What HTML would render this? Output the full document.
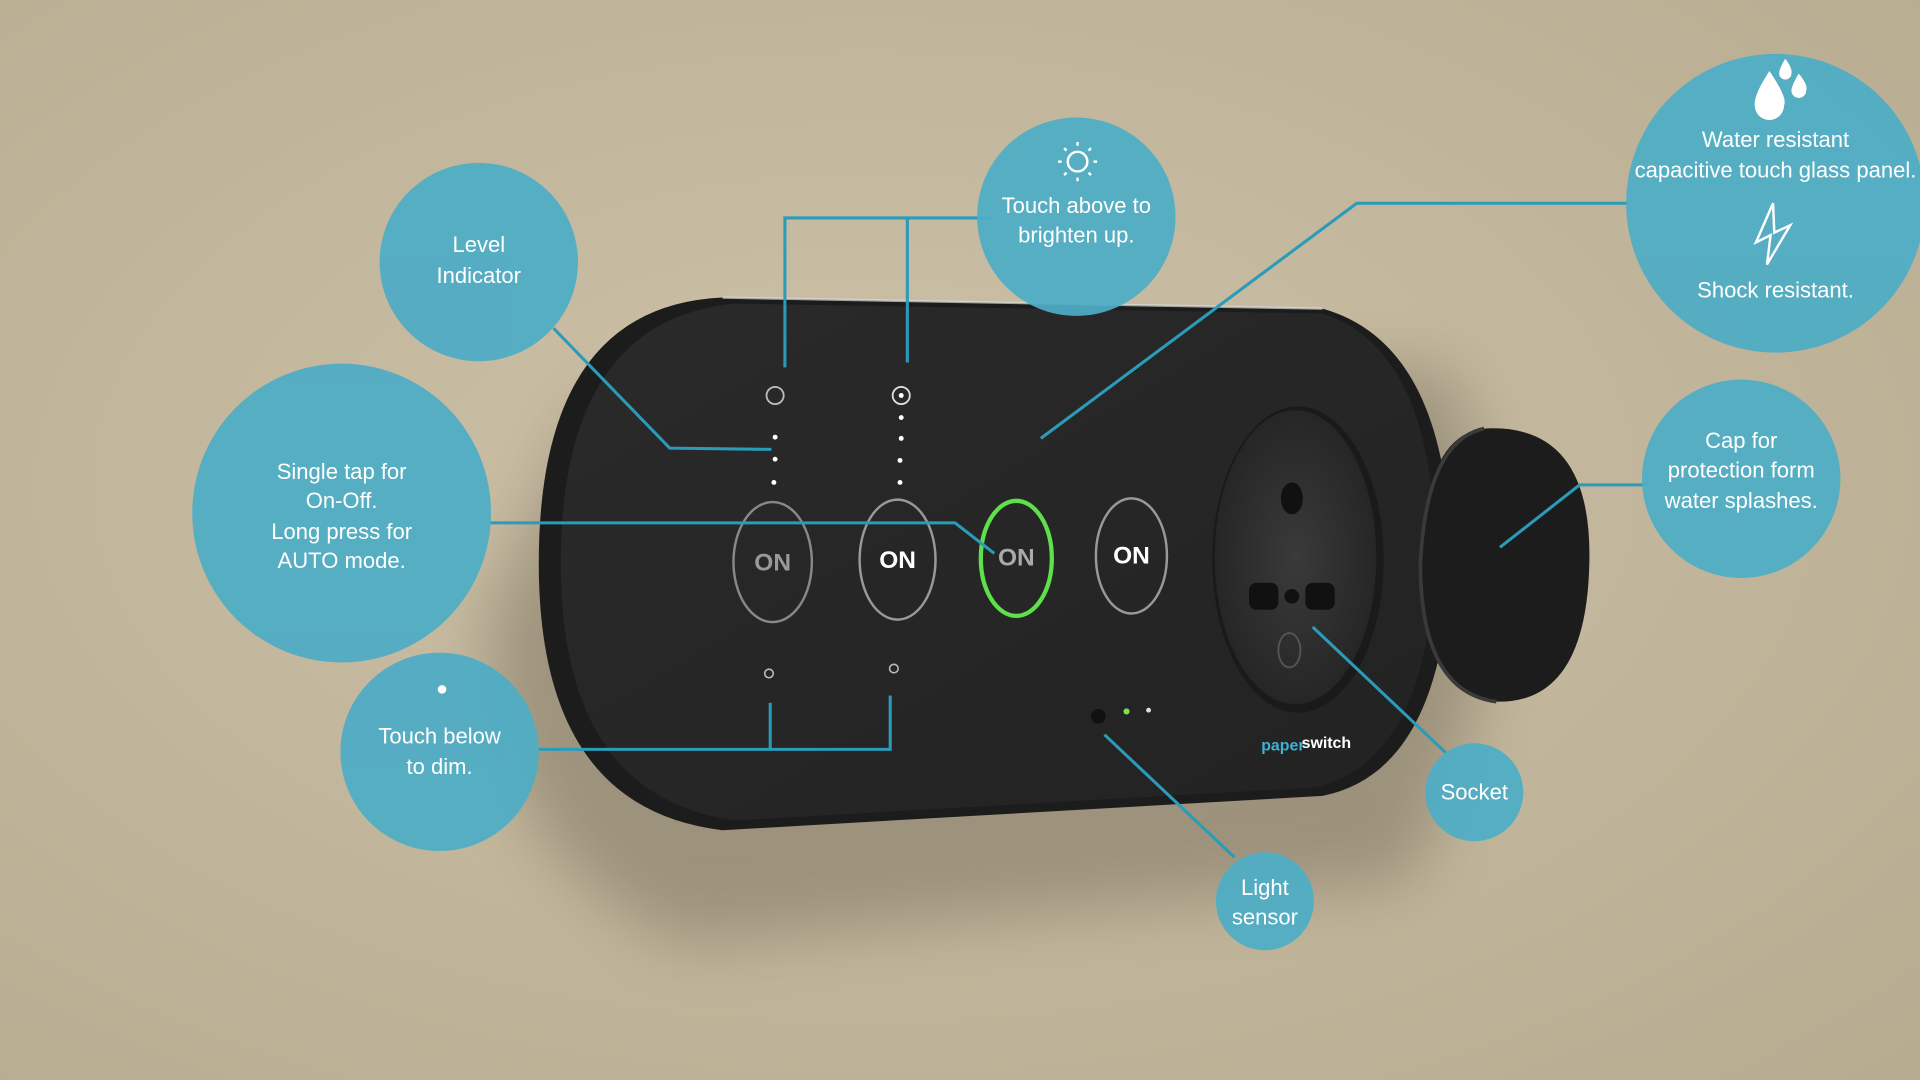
<!DOCTYPE html>
<html><head><meta charset="utf-8"><style>
html,body{margin:0;padding:0;width:1920px;height:1080px;overflow:hidden;}
svg{display:block}
text{font-family:"Liberation Sans",sans-serif;fill:#fff;}
</style></head><body>
<svg width="1920" height="1080" viewBox="0 0 1568 882" xmlns="http://www.w3.org/2000/svg">
<defs>
<radialGradient id="bg" cx="0.45" cy="0.45" r="0.8">
<stop offset="0" stop-color="#cdc2a8"/><stop offset="1" stop-color="#b6aa8f"/></radialGradient>
<filter id="blur" x="-20%" y="-20%" width="140%" height="140%"><feGaussianBlur stdDeviation="25"/></filter>
<radialGradient id="sock" cx="0.5" cy="0.5" r="0.5"><stop offset="0" stop-color="#3a3a3a"/><stop offset="1" stop-color="#262626"/></radialGradient>
<linearGradient id="face" x1="0" y1="0" x2="1" y2="1"><stop offset="0" stop-color="#2a2a2a"/><stop offset="1" stop-color="#222"/></linearGradient>
</defs>
<rect width="1568" height="882" fill="url(#bg)"/>
<path d="M480 330 L1180 300 Q1270 480 1150 720 L560 770 Q390 700 400 500 Z" fill="#6f6553" opacity="0.45" filter="url(#blur)"/>
<path d="M590 243 L1080 252 Q1180 280 1185 450 Q1180 630 1080 650 L590 678 Q440 660 440 460 Q440 250 590 243 Z" fill="#1c1c1c"/>
<path d="M600 248 L1080 256 Q1170 285 1172 450 Q1168 620 1075 643 L600 670 Q458 650 458 460 Q458 262 600 248 Z" fill="url(#face)"/>
<path d="M590 243 L1080 252" stroke="#ddd" stroke-width="2" fill="none" opacity="0.7"/>
<ellipse cx="1060" cy="457" rx="70" ry="125" fill="#1a1a1a"/>
<ellipse cx="1058" cy="455" rx="66" ry="120" fill="url(#sock)"/>
<ellipse cx="1055" cy="407" rx="9" ry="13" fill="#111"/>
<rect x="1020" y="476" width="24" height="22" rx="6" fill="#111"/>
<rect x="1066" y="476" width="24" height="22" rx="6" fill="#111"/>
<circle cx="1055" cy="487" r="6" fill="#111"/>
<ellipse cx="1053" cy="531" rx="9" ry="14" fill="none" stroke="#555" stroke-width="1.5"/>
<path d="M1212 350 Q1300 345 1298 458 Q1296 575 1222 573 Q1160 565 1160 460 Q1163 355 1212 350 Z" fill="#1c1c1c"/>
<path d="M1212 350 Q1165 360 1160 460 Q1160 565 1222 573" fill="none" stroke="#3a3a3a" stroke-width="3"/>
<circle cx="633" cy="323" r="7" fill="none" stroke="#bbb" stroke-width="1.5"/>
<circle cx="736" cy="323" r="7" fill="none" stroke="#ddd" stroke-width="1.5"/>
<circle cx="736" cy="323" r="2" fill="#fff"/>
<g fill="#fff"><circle cx="633" cy="357" r="2"/><circle cx="633" cy="375" r="2"/><circle cx="632" cy="394" r="2"/>
<circle cx="736" cy="341" r="2"/><circle cx="736" cy="358" r="2"/><circle cx="735" cy="376" r="2"/><circle cx="735" cy="394" r="2"/></g>
<circle cx="628" cy="550" r="3.5" fill="none" stroke="#bbb" stroke-width="1.3"/>
<circle cx="730" cy="546" r="3.5" fill="none" stroke="#bbb" stroke-width="1.3"/>
<ellipse cx="631" cy="459" rx="32" ry="49" fill="none" stroke="#888" stroke-width="2"/>
<ellipse cx="733" cy="457" rx="31" ry="49" fill="none" stroke="#999" stroke-width="2"/>
<ellipse cx="830" cy="456" rx="29" ry="47" fill="none" stroke="#5ee04a" stroke-width="3.5"/>
<ellipse cx="924" cy="454" rx="29" ry="47" fill="none" stroke="#999" stroke-width="2"/>
<g font-weight="bold" font-size="20" text-anchor="middle">
<text x="631" y="466" style="fill:#999">ON</text><text x="733" y="464">ON</text>
<text x="830" y="462" style="fill:#aaa">ON</text><text x="924" y="460">ON</text></g>
<circle cx="897" cy="585" r="6" fill="#111"/>
<circle cx="920" cy="581" r="2.5" fill="#7be04a"/>
<circle cx="938" cy="580" r="2" fill="#ddd"/>
<text x="1030" y="613" font-size="13" font-weight="bold" style="fill:#3fb1d4">paper</text>
<text x="1063" y="611" font-size="13" font-weight="bold">switch</text>
<g stroke="#2a9bb8" stroke-width="2.5" fill="none">
<polyline points="452,268 547,366 630,367"/>
<polyline points="641,300 641,178 810,178"/>
<line x1="741" y1="178" x2="741" y2="296"/>
<polyline points="400,427 780,427 812,452"/>
<polyline points="440,612 727,612 727,568"/>
<line x1="629" y1="574" x2="629" y2="612"/>
<polyline points="850,358 1108,166 1330,166"/>
<polyline points="1225,447 1290,396 1345,396"/>
<line x1="1072" y1="512" x2="1182" y2="616"/>
<line x1="902" y1="600" x2="1008" y2="700"/>
</g>
<g fill="#4eadc6" opacity="0.93">
<circle cx="391" cy="214" r="81"/>
<circle cx="879" cy="177" r="81"/>
<circle cx="279" cy="419" r="122"/>
<circle cx="359" cy="614" r="81"/>
<circle cx="1450" cy="166" r="122"/>
<circle cx="1422" cy="391" r="81"/>
<circle cx="1204" cy="647" r="40"/>
<circle cx="1033" cy="736" r="40"/>
</g>
<g font-size="18" text-anchor="middle">
<text x="391" y="206">Level</text><text x="391" y="231">Indicator</text>
<text x="879" y="174">Touch above to</text><text x="879" y="198">brighten up.</text>
<text x="279" y="391">Single tap for</text><text x="279" y="415">On-Off.</text><text x="279" y="440">Long press for</text><text x="279" y="464">AUTO mode.</text>
<text x="359" y="607">Touch below</text><text x="359" y="632">to dim.</text>
<text x="1450" y="120">Water resistant</text><text x="1450" y="145">capacitive touch glass panel.</text>
<text x="1450" y="243">Shock resistant.</text>
<text x="1422" y="366">Cap for</text><text x="1422" y="390">protection form</text><text x="1422" y="415">water splashes.</text>
<text x="1204" y="653">Socket</text>
<text x="1033" y="731">Light</text><text x="1033" y="755">sensor</text>
</g>
<circle cx="361" cy="563" r="3.5" fill="#fff"/>
<g stroke="#fff" stroke-width="2" fill="none">
<circle cx="880" cy="132" r="8"/>
<line x1="880" y1="116" x2="880" y2="119"/><line x1="880" y1="145" x2="880" y2="148"/>
<line x1="864" y1="132" x2="867" y2="132"/><line x1="893" y1="132" x2="896" y2="132"/>
<line x1="869" y1="121" x2="871" y2="123"/><line x1="889" y1="141" x2="891" y2="143"/>
<line x1="891" y1="121" x2="889" y2="123"/><line x1="869" y1="143" x2="871" y2="141"/>
</g>
<path d="M1445 58 Q1460 80 1457 86 A12 12 0 0 1 1433 86 Q1432 78 1445 58 Z" fill="#fff"/>
<path d="M1458 48 Q1464 56 1463 60 A5 5 0 0 1 1453 60 Q1453 56 1458 48Z" fill="#fff"/>
<path d="M1469 60 Q1477 70 1475 74 A6 6 0 0 1 1463 74 Q1463 70 1469 60Z" fill="#fff"/>
<path d="M1448 166 L1434 198 L1446 192 L1443 216 L1462 184 L1449 190 Z" fill="none" stroke="#fff" stroke-width="2"/>
</svg>
</body></html>
